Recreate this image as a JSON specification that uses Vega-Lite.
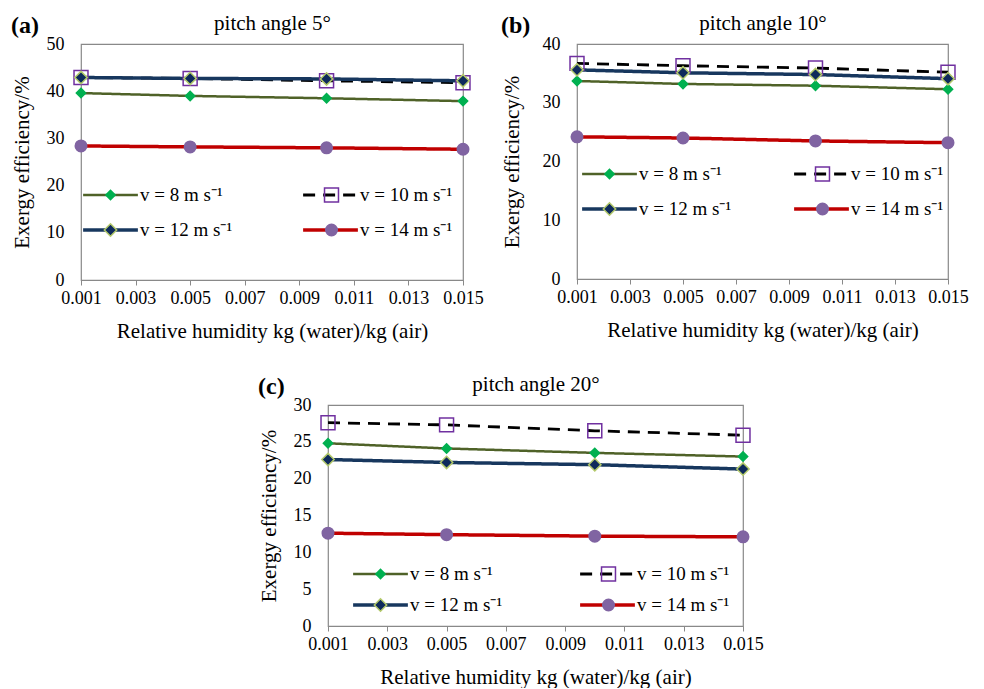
{
  "$schema": "https://vega.github.io/schema/vega-lite/v6.json",
  "background": "white",
  "padding": {"left": 10, "top": 11, "right": 10, "bottom": 0},
  "config": {
    "font": "Liberation Serif",
    "view": {"stroke": "#898989", "strokeWidth": 1.2},
    "axis": {"grid": false, "domain": false, "labelFont": "Liberation Serif", "labelFontSize": 18, "labelColor": "#000", "titleFont": "Liberation Serif", "titleFontSize": 21, "titleFontWeight": "normal", "titleColor": "#000", "tickColor": "#898989", "labelOverlap": false, "labelFlush": false},
    "axisBottom": {"tickSize": 5, "labelPadding": 4, "titlePadding": 13},
    "axisTop": {"ticks": false, "labels": false, "titlePadding": 11},
    "axisLeft": {"ticks": false, "labelPadding": 17, "titlePadding": 14},
    "legend": {"orient": "none", "direction": "horizontal", "columns": 2, "symbolSize": 3000, "clipHeight": 20, "labelFont": "Liberation Serif", "labelFontSize": 19, "labelColor": "#000", "padding": 0, "rowPadding": 15, "columnPadding": 68, "labelOffset": 0, "symbolStrokeWidth": 1.5, "titlePadding": 0},
    "title": {"font": "Liberation Serif", "fontSize": 24, "fontWeight": "bold", "anchor": "start", "frame": "bounds", "color": "#000", "offset": 0, "dy": 30}
  },
  "datasets": {
    "a": [
      {"h": 0.001, "v": 8, "series": "v = 8 m s⁻¹", "eff": 39.6},
      {"h": 0.005, "v": 8, "series": "v = 8 m s⁻¹", "eff": 39.0},
      {"h": 0.010, "v": 8, "series": "v = 8 m s⁻¹", "eff": 38.5},
      {"h": 0.015, "v": 8, "series": "v = 8 m s⁻¹", "eff": 37.9},
      {"h": 0.001, "v": 10, "series": "v = 10 m s⁻¹", "eff": 42.9},
      {"h": 0.005, "v": 10, "series": "v = 10 m s⁻¹", "eff": 42.7},
      {"h": 0.010, "v": 10, "series": "v = 10 m s⁻¹", "eff": 42.2},
      {"h": 0.015, "v": 10, "series": "v = 10 m s⁻¹", "eff": 41.8},
      {"h": 0.001, "v": 12, "series": "v = 12 m s⁻¹", "eff": 42.9},
      {"h": 0.005, "v": 12, "series": "v = 12 m s⁻¹", "eff": 42.7},
      {"h": 0.010, "v": 12, "series": "v = 12 m s⁻¹", "eff": 42.6},
      {"h": 0.015, "v": 12, "series": "v = 12 m s⁻¹", "eff": 42.2},
      {"h": 0.001, "v": 14, "series": "v = 14 m s⁻¹", "eff": 28.4},
      {"h": 0.005, "v": 14, "series": "v = 14 m s⁻¹", "eff": 28.2},
      {"h": 0.010, "v": 14, "series": "v = 14 m s⁻¹", "eff": 28.0},
      {"h": 0.015, "v": 14, "series": "v = 14 m s⁻¹", "eff": 27.7}
    ],
    "b": [
      {"h": 0.001, "v": 8, "series": "v = 8 m s⁻¹", "eff": 33.7},
      {"h": 0.005, "v": 8, "series": "v = 8 m s⁻¹", "eff": 33.2},
      {"h": 0.010, "v": 8, "series": "v = 8 m s⁻¹", "eff": 32.9},
      {"h": 0.015, "v": 8, "series": "v = 8 m s⁻¹", "eff": 32.3},
      {"h": 0.001, "v": 10, "series": "v = 10 m s⁻¹", "eff": 36.7},
      {"h": 0.005, "v": 10, "series": "v = 10 m s⁻¹", "eff": 36.3},
      {"h": 0.010, "v": 10, "series": "v = 10 m s⁻¹", "eff": 35.9},
      {"h": 0.015, "v": 10, "series": "v = 10 m s⁻¹", "eff": 35.2},
      {"h": 0.001, "v": 12, "series": "v = 12 m s⁻¹", "eff": 35.6},
      {"h": 0.005, "v": 12, "series": "v = 12 m s⁻¹", "eff": 35.1},
      {"h": 0.010, "v": 12, "series": "v = 12 m s⁻¹", "eff": 34.8},
      {"h": 0.015, "v": 12, "series": "v = 12 m s⁻¹", "eff": 34.1},
      {"h": 0.001, "v": 14, "series": "v = 14 m s⁻¹", "eff": 24.2},
      {"h": 0.005, "v": 14, "series": "v = 14 m s⁻¹", "eff": 24.0},
      {"h": 0.010, "v": 14, "series": "v = 14 m s⁻¹", "eff": 23.5},
      {"h": 0.015, "v": 14, "series": "v = 14 m s⁻¹", "eff": 23.2}
    ],
    "c": [
      {"h": 0.001, "v": 8, "series": "v = 8 m s⁻¹", "eff": 24.8},
      {"h": 0.005, "v": 8, "series": "v = 8 m s⁻¹", "eff": 24.1},
      {"h": 0.010, "v": 8, "series": "v = 8 m s⁻¹", "eff": 23.5},
      {"h": 0.015, "v": 8, "series": "v = 8 m s⁻¹", "eff": 23.0},
      {"h": 0.001, "v": 10, "series": "v = 10 m s⁻¹", "eff": 27.6},
      {"h": 0.005, "v": 10, "series": "v = 10 m s⁻¹", "eff": 27.3},
      {"h": 0.010, "v": 10, "series": "v = 10 m s⁻¹", "eff": 26.5},
      {"h": 0.015, "v": 10, "series": "v = 10 m s⁻¹", "eff": 25.9},
      {"h": 0.001, "v": 12, "series": "v = 12 m s⁻¹", "eff": 22.6},
      {"h": 0.005, "v": 12, "series": "v = 12 m s⁻¹", "eff": 22.2},
      {"h": 0.010, "v": 12, "series": "v = 12 m s⁻¹", "eff": 21.9},
      {"h": 0.015, "v": 12, "series": "v = 12 m s⁻¹", "eff": 21.3},
      {"h": 0.001, "v": 14, "series": "v = 14 m s⁻¹", "eff": 12.6},
      {"h": 0.005, "v": 14, "series": "v = 14 m s⁻¹", "eff": 12.4},
      {"h": 0.010, "v": 14, "series": "v = 14 m s⁻¹", "eff": 12.2},
      {"h": 0.015, "v": 14, "series": "v = 14 m s⁻¹", "eff": 12.1}
    ]
  },
  "resolve": {
    "scale": {"color": "independent", "fill": "independent", "stroke": "independent", "shape": "independent", "strokeDash": "independent", "strokeWidth": "independent"},
    "legend": {"color": "independent", "fill": "independent", "stroke": "independent", "shape": "independent", "strokeDash": "independent", "strokeWidth": "independent"}
  },
  "spacing": 30,
  "vconcat": [
    {
      "spacing": 16,
      "resolve": {
        "scale": {"color": "independent", "fill": "independent", "stroke": "independent", "shape": "independent", "strokeDash": "independent", "strokeWidth": "independent"},
        "legend": {"color": "independent", "fill": "independent", "stroke": "independent", "shape": "independent", "strokeDash": "independent", "strokeWidth": "independent"}
      },
      "hconcat": [
        {
          "title": "(a)",
          "width": 382,
          "height": 236,
          "data": {"name": "a"},
          "layer": [
            {
              "mark": {"type": "line", "strokeJoin": "round"},
              "encoding": {
                "x": {"field": "h", "type": "quantitative", "scale": {"domain": [0.001, 0.015], "nice": false, "zero": false}, "axis": {"orient": "bottom", "values": [0.001, 0.003, 0.005, 0.007, 0.009, 0.011, 0.013, 0.015], "format": ".3f", "title": "Relative humidity kg (water)/kg (air)"}},
                "y": {"field": "eff", "type": "quantitative", "scale": {"domain": [0, 50], "nice": false}, "axis": {"values": [0, 10, 20, 30, 40, 50], "title": "Exergy efficiency/%"}},
                "color": {"field": "series", "type": "nominal", "scale": {"domain": ["v = 8 m s⁻¹", "v = 10 m s⁻¹", "v = 12 m s⁻¹", "v = 14 m s⁻¹"], "range": ["#4f6228", "#000000", "#17375e", "#c00000"]}, "legend": {"title": null, "legendX": 0, "legendY": 141}},
                "strokeDash": {"field": "series", "type": "nominal", "scale": {"domain": ["v = 8 m s⁻¹", "v = 10 m s⁻¹", "v = 12 m s⁻¹", "v = 14 m s⁻¹"], "range": [[1, 0], [12, 8], [1, 0], [1, 0]]}},
                "strokeWidth": {"field": "series", "type": "ordinal", "scale": {"type": "ordinal", "domain": ["v = 8 m s⁻¹", "v = 10 m s⁻¹", "v = 12 m s⁻¹", "v = 14 m s⁻¹"], "range": [2.5, 2.8, 3.5, 3.5]}}
              }
            },
            {
              "mark": {"type": "point", "filled": true, "size": 3000, "strokeWidth": 1.5, "opacity": 1},
              "encoding": {
                "x": {"field": "h", "type": "quantitative", "axis": {"orient": "top", "title": "pitch angle 5°"}},
                "y": {"field": "eff", "type": "quantitative", "axis": {"values": [0, 10, 20, 30, 40, 50], "title": "Exergy efficiency/%"}},
                "shape": {"field": "v", "type": "nominal", "scale": {"domain": [8, 10, 12, 14], "range": ["M-0.17,0L0,-0.17L0.17,0L0,0.17Z", "M-0.255,-0.255H0.255V0.255H-0.255Z", "M-0.225,0L0,-0.225L0.225,0L0,0.225Z", "M0.21,0A0.21,0.21,0,1,1,-0.21,0A0.21,0.21,0,1,1,0.21,0Z"]}, "legend": {"title": null, "legendX": 0, "legendY": 141, "labelOpacity": 0, "labelOffset": 2, "symbolOffset": 1, "labelExpr": "'v = ' + datum.label + ' m s⁻¹'"}},
                "fill": {"field": "v", "type": "nominal", "scale": {"domain": [8, 10, 12, 14], "range": ["#00b050", "transparent", "#0e2a5c", "#8064a2"]}},
                "stroke": {"field": "v", "type": "nominal", "scale": {"domain": [8, 10, 12, 14], "range": ["#00b050", "#7030a0", "#b3c96b", "#8064a2"]}}
              }
            }
          ]
        },
        {
          "title": "(b)",
          "width": 371,
          "height": 235,
          "data": {"name": "b"},
          "layer": [
            {
              "mark": {"type": "line", "strokeJoin": "round"},
              "encoding": {
                "x": {"field": "h", "type": "quantitative", "scale": {"domain": [0.001, 0.015], "nice": false, "zero": false}, "axis": {"orient": "bottom", "values": [0.001, 0.003, 0.005, 0.007, 0.009, 0.011, 0.013, 0.015], "format": ".3f", "title": "Relative humidity kg (water)/kg (air)"}},
                "y": {"field": "eff", "type": "quantitative", "scale": {"domain": [0, 40], "nice": false}, "axis": {"values": [0, 10, 20, 30, 40], "title": "Exergy efficiency/%", "titlePadding": 20}},
                "color": {"field": "series", "type": "nominal", "scale": {"domain": ["v = 8 m s⁻¹", "v = 10 m s⁻¹", "v = 12 m s⁻¹", "v = 14 m s⁻¹"], "range": ["#4f6228", "#000000", "#17375e", "#c00000"]}, "legend": {"title": null, "legendX": 3, "legendY": 120, "columnPadding": 60}},
                "strokeDash": {"field": "series", "type": "nominal", "scale": {"domain": ["v = 8 m s⁻¹", "v = 10 m s⁻¹", "v = 12 m s⁻¹", "v = 14 m s⁻¹"], "range": [[1, 0], [12, 8], [1, 0], [1, 0]]}},
                "strokeWidth": {"field": "series", "type": "ordinal", "scale": {"type": "ordinal", "domain": ["v = 8 m s⁻¹", "v = 10 m s⁻¹", "v = 12 m s⁻¹", "v = 14 m s⁻¹"], "range": [2.5, 2.8, 3.5, 3.5]}}
              }
            },
            {
              "mark": {"type": "point", "filled": true, "size": 3000, "strokeWidth": 1.5, "opacity": 1},
              "encoding": {
                "x": {"field": "h", "type": "quantitative", "axis": {"orient": "top", "title": "pitch angle 10°"}},
                "y": {"field": "eff", "type": "quantitative", "axis": {"values": [0, 10, 20, 30, 40], "title": "Exergy efficiency/%", "titlePadding": 20}},
                "shape": {"field": "v", "type": "nominal", "scale": {"domain": [8, 10, 12, 14], "range": ["M-0.17,0L0,-0.17L0.17,0L0,0.17Z", "M-0.255,-0.255H0.255V0.255H-0.255Z", "M-0.225,0L0,-0.225L0.225,0L0,0.225Z", "M0.21,0A0.21,0.21,0,1,1,-0.21,0A0.21,0.21,0,1,1,0.21,0Z"]}, "legend": {"title": null, "legendX": 3, "legendY": 120, "columnPadding": 60, "labelOpacity": 0, "labelOffset": 2, "symbolOffset": 1, "labelExpr": "'v = ' + datum.label + ' m s⁻¹'"}},
                "fill": {"field": "v", "type": "nominal", "scale": {"domain": [8, 10, 12, 14], "range": ["#00b050", "transparent", "#0e2a5c", "#8064a2"]}},
                "stroke": {"field": "v", "type": "nominal", "scale": {"domain": [8, 10, 12, 14], "range": ["#00b050", "#7030a0", "#b3c96b", "#8064a2"]}}
              }
            }
          ]
        }
      ]
    },
    {
      "spacing": 0,
      "resolve": {
        "scale": {"color": "independent", "fill": "independent", "stroke": "independent", "shape": "independent", "strokeDash": "independent", "strokeWidth": "independent"},
        "legend": {"color": "independent", "fill": "independent", "stroke": "independent", "shape": "independent", "strokeDash": "independent", "strokeWidth": "independent"}
      },
      "hconcat": [
        {
          "width": 176,
          "height": 1,
          "view": {"stroke": null},
          "data": {"values": []},
          "mark": "point"
        },
        {
          "title": "(c)",
          "width": 415,
          "height": 221,
          "data": {"name": "c"},
          "layer": [
            {
              "mark": {"type": "line", "strokeJoin": "round"},
              "encoding": {
                "x": {"field": "h", "type": "quantitative", "scale": {"domain": [0.001, 0.015], "nice": false, "zero": false}, "axis": {"orient": "bottom", "values": [0.001, 0.003, 0.005, 0.007, 0.009, 0.011, 0.013, 0.015], "format": ".3f", "title": "Relative humidity kg (water)/kg (air)"}},
                "y": {"field": "eff", "type": "quantitative", "scale": {"domain": [0, 30], "nice": false}, "axis": {"values": [0, 5, 10, 15, 20, 25, 30], "title": "Exergy efficiency/%"}},
                "color": {"field": "series", "type": "nominal", "scale": {"domain": ["v = 8 m s⁻¹", "v = 10 m s⁻¹", "v = 12 m s⁻¹", "v = 14 m s⁻¹"], "range": ["#4f6228", "#000000", "#17375e", "#c00000"]}, "legend": {"title": null, "legendX": 23, "legendY": 159, "rowPadding": 11, "columnPadding": 75}},
                "strokeDash": {"field": "series", "type": "nominal", "scale": {"domain": ["v = 8 m s⁻¹", "v = 10 m s⁻¹", "v = 12 m s⁻¹", "v = 14 m s⁻¹"], "range": [[1, 0], [12, 8], [1, 0], [1, 0]]}},
                "strokeWidth": {"field": "series", "type": "ordinal", "scale": {"type": "ordinal", "domain": ["v = 8 m s⁻¹", "v = 10 m s⁻¹", "v = 12 m s⁻¹", "v = 14 m s⁻¹"], "range": [2.5, 2.8, 3.5, 3.5]}}
              }
            },
            {
              "mark": {"type": "point", "filled": true, "size": 3000, "strokeWidth": 1.5, "opacity": 1},
              "encoding": {
                "x": {"field": "h", "type": "quantitative", "axis": {"orient": "top", "title": "pitch angle 20°"}},
                "y": {"field": "eff", "type": "quantitative", "axis": {"values": [0, 5, 10, 15, 20, 25, 30], "title": "Exergy efficiency/%"}},
                "shape": {"field": "v", "type": "nominal", "scale": {"domain": [8, 10, 12, 14], "range": ["M-0.17,0L0,-0.17L0.17,0L0,0.17Z", "M-0.255,-0.255H0.255V0.255H-0.255Z", "M-0.225,0L0,-0.225L0.225,0L0,0.225Z", "M0.21,0A0.21,0.21,0,1,1,-0.21,0A0.21,0.21,0,1,1,0.21,0Z"]}, "legend": {"title": null, "legendX": 23, "legendY": 159, "rowPadding": 11, "columnPadding": 75, "labelOpacity": 0, "labelOffset": 2, "symbolOffset": 1, "labelExpr": "'v = ' + datum.label + ' m s⁻¹'"}},
                "fill": {"field": "v", "type": "nominal", "scale": {"domain": [8, 10, 12, 14], "range": ["#00b050", "transparent", "#0e2a5c", "#8064a2"]}},
                "stroke": {"field": "v", "type": "nominal", "scale": {"domain": [8, 10, 12, 14], "range": ["#00b050", "#7030a0", "#b3c96b", "#8064a2"]}}
              }
            }
          ]
        }
      ]
    }
  ]
}
